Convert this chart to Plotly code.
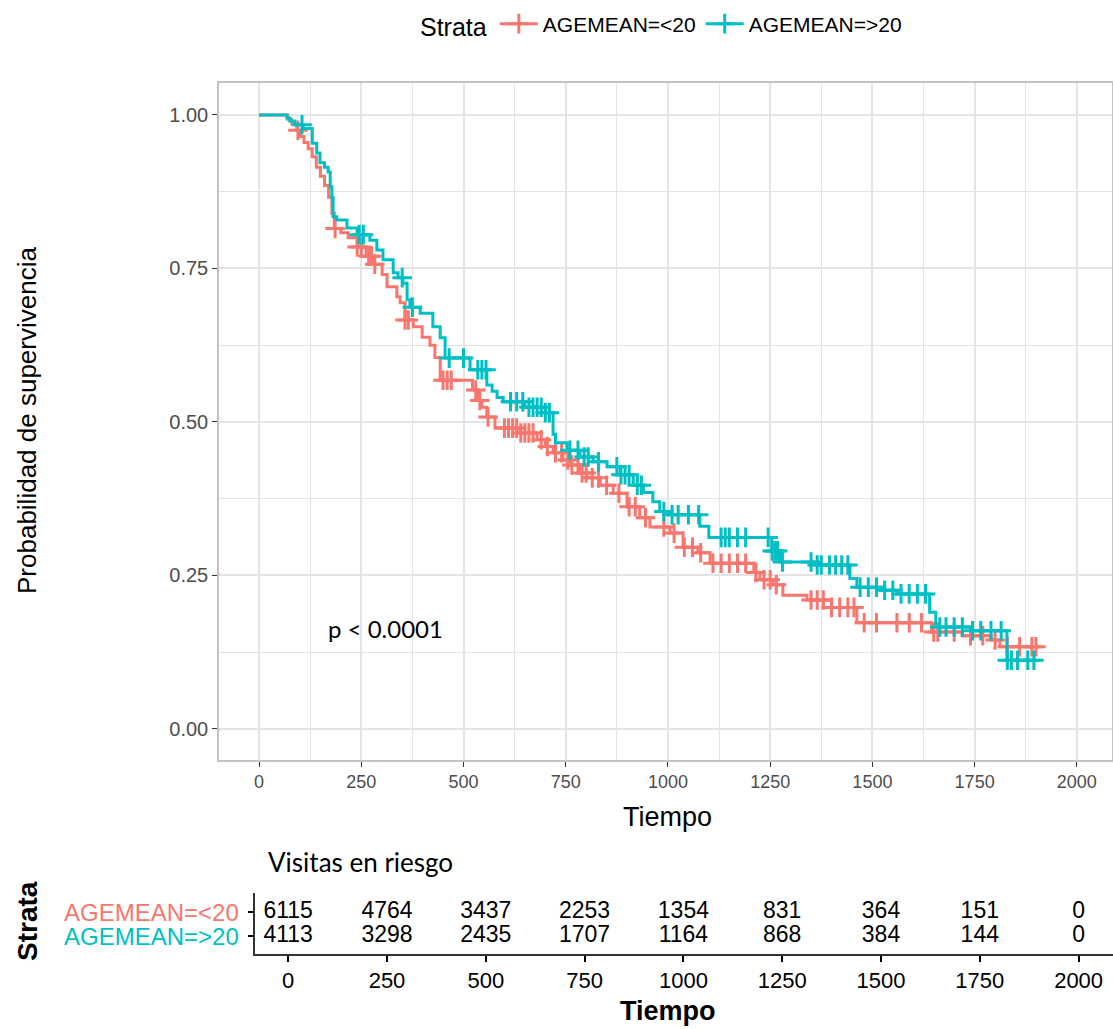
import plotly.graph_objects as go

# ---------------- data ----------------
groups = ["AGEMEAN=<20", "AGEMEAN=>20"]
colors = ["#F8766D", "#00BFC4"]

red_t = [0, 70, 80, 92, 100, 110, 120, 130, 140, 150, 160, 170, 178, 184, 200, 218, 240, 262, 279, 301,
         313, 337, 345, 357, 377, 399, 418, 430, 443, 522, 535, 545, 557, 577, 638, 680, 700, 719, 743, 760,
         785, 802, 834, 866, 900, 931, 956, 1005, 1037, 1073, 1103, 1210, 1225, 1257, 1281, 1340, 1400, 1462,
         1645, 1720, 1790, 1812, 1909]
red_s = [1.0, 0.993, 0.985, 0.975, 0.965, 0.955, 0.945, 0.932, 0.915, 0.9, 0.885, 0.866, 0.84, 0.815, 0.808,
         0.80, 0.785, 0.77, 0.757, 0.74, 0.72, 0.704, 0.694, 0.666, 0.655, 0.638, 0.625, 0.605, 0.568, 0.552,
         0.535, 0.524, 0.508, 0.49, 0.482, 0.471, 0.46, 0.45, 0.438, 0.43, 0.417, 0.409, 0.397, 0.384, 0.362,
         0.344, 0.329, 0.319, 0.296, 0.287, 0.27, 0.255, 0.243, 0.235, 0.218, 0.21, 0.198, 0.173, 0.158,
         0.152, 0.145, 0.134, 0.134]

cyan_t = [0, 68, 75, 88, 108, 130, 141, 149, 160, 169, 174, 178, 181, 190, 215, 240, 271, 288, 303, 328,
          340, 352, 362, 369, 394, 425, 443, 455, 516, 557, 570, 582, 597, 650, 700, 719, 725, 753, 785, 817,
          851, 883, 915, 940, 963, 980, 1000, 1078, 1100, 1254, 1275, 1360, 1445, 1462, 1520, 1560, 1640,
          1655, 1740, 1829, 1909]
cyan_s = [1.0, 0.995, 0.99, 0.984, 0.978, 0.954, 0.938, 0.922, 0.915, 0.907, 0.883, 0.866, 0.834, 0.829,
          0.816, 0.805, 0.796, 0.78, 0.764, 0.743, 0.735, 0.726, 0.699, 0.687, 0.677, 0.655, 0.637, 0.604,
          0.585, 0.56, 0.55, 0.54, 0.533, 0.524, 0.515, 0.48, 0.466, 0.454, 0.443, 0.435, 0.427, 0.414, 0.397,
          0.385, 0.37, 0.354, 0.349, 0.33, 0.312, 0.29, 0.272, 0.267, 0.245, 0.231, 0.226, 0.22, 0.19, 0.166,
          0.16, 0.112, 0.112]

red_censor = [95, 186, 240, 250, 268, 275, 283, 357, 365, 450, 460, 470, 530, 540, 560, 600, 610, 620, 630,
              640, 650, 660, 670, 690, 705, 725, 740, 755, 765, 780, 790, 800, 815, 830, 850, 880, 905, 920,
              945, 990, 1015, 1040, 1060, 1080, 1110, 1130, 1150, 1170, 1190, 1215, 1235, 1250, 1265, 1350,
              1365, 1380, 1400, 1420, 1440, 1455, 1480, 1510, 1560, 1590, 1620, 1650, 1660, 1700, 1740, 1770,
              1800, 1830, 1860, 1890, 1900]
cyan_censor = [105, 245, 255, 350, 375, 465, 500, 535, 545, 555, 615, 630, 645, 660, 670, 680, 690, 700, 710,
               760, 780, 795, 805, 830, 875, 885, 895, 905, 925, 935, 990, 1010, 1025, 1050, 1075, 1130, 1140,
               1150, 1170, 1190, 1245, 1255, 1262, 1268, 1280, 1350, 1365, 1375, 1395, 1410, 1425, 1440, 1470,
               1490, 1510, 1530, 1550, 1570, 1590, 1610, 1630, 1665, 1680, 1700, 1720, 1745, 1765, 1790, 1815,
               1830, 1840, 1855, 1880, 1895]

risk_times = [0, 250, 500, 750, 1000, 1250, 1500, 1750, 2000]
risk_red = [6115, 4764, 3437, 2253, 1354, 831, 364, 151, 0]
risk_cyan = [4113, 3298, 2435, 1707, 1164, 868, 384, 144, 0]

x_ticks = [0, 250, 500, 750, 1000, 1250, 1500, 1750, 2000]
y_ticks = [0, 0.25, 0.5, 0.75, 1.0]
y_ticklabels = ["0.00", "0.25", "0.50", "0.75", "1.00"]


def step_lookup(ts, ss, c):
    val = ss[0]
    for t, s in zip(ts, ss):
        if t <= c:
            val = s
        else:
            break
    return val


W, H = 1113, 1029
def px(x):
    return x / W
def py(y):
    return 1 - y / H

SANS = "Liberation Sans, Arial, sans-serif"
CAL = "Lato, Carlito, Calibri, sans-serif"

fig = go.Figure()

LW = 3
MS = 14
curves = [(red_t, red_s, red_censor), (cyan_t, cyan_s, cyan_censor)]
for (ts, ss, cens), name, col in zip(curves, groups, colors):
    fig.add_trace(go.Scatter(x=ts, y=ss, mode="lines", line=dict(color=col, width=LW, shape="hv"),
                             showlegend=False, hoverinfo="skip", xaxis="x", yaxis="y"))
    fig.add_trace(go.Scatter(x=cens, y=[step_lookup(ts, ss, c) for c in cens], mode="markers",
                             marker=dict(symbol="cross-thin", size=MS, line=dict(color=col, width=LW)),
                             showlegend=False, hoverinfo="skip", xaxis="x", yaxis="y"))
    # legend entry
    fig.add_trace(go.Scatter(x=[None], y=[None], mode="lines+markers", name=name,
                             line=dict(color=col, width=LW),
                             marker=dict(symbol="cross-thin", size=MS, line=dict(color=col, width=LW)),
                             xaxis="x", yaxis="y"))

# risk table numbers
for vals, yv in [(risk_red, 2), (risk_cyan, 1)]:
    fig.add_trace(go.Scatter(x=risk_times, y=[yv] * len(risk_times), mode="text",
                             text=[str(v) for v in vals],
                             textfont=dict(family=SANS, size=23, color="black"),
                             showlegend=False, hoverinfo="skip", xaxis="x2", yaxis="y2"))

grid_c = "#E4E4E4"


def ann(text, x, y, size, color="black", family=SANS, angle=0, xref="paper", yref="paper",
        xanchor="center", height=None):
    d = dict(text=text, xref=xref, yref=yref, x=x, y=y, xanchor=xanchor, yanchor="middle",
             textangle=angle, showarrow=False, font=dict(family=family, size=size, color=color))
    if height is not None:
        d["height"] = height
        d["valign"] = "middle"
    return d


fig.update_layout(
    width=W, height=H, margin=dict(l=0, r=0, t=0, b=0),
    plot_bgcolor="white", paper_bgcolor="white",
    xaxis=dict(domain=[px(219), px(1112)], range=[-98, 2086], anchor="y",
               tickvals=x_ticks, ticks="outside", ticklen=5, tickwidth=1.3, tickcolor="#333333",
               tickfont=dict(family=SANS, size=18, color="#4D4D4D"),
               showgrid=True, gridcolor=grid_c, gridwidth=1.5,
               minor=dict(dtick=125, tick0=0, showgrid=True, gridcolor=grid_c, gridwidth=1.2, ticks=""),
               zeroline=False, showline=True, mirror=True, linecolor="#C4C4C4", linewidth=1.5),
    yaxis=dict(domain=[py(760), py(83)], range=[-0.0505, 1.052], anchor="x",
               tickvals=y_ticks, ticktext=y_ticklabels, ticks="outside", ticklen=5, tickwidth=1.3,
               tickcolor="#333333", tickfont=dict(family=SANS, size=20, color="#4D4D4D"),
               showgrid=True, gridcolor=grid_c, gridwidth=1.5,
               minor=dict(dtick=0.125, tick0=0, showgrid=True, gridcolor=grid_c, gridwidth=1.2, ticks=""),
               zeroline=False, showline=True, mirror=True, linecolor="#C4C4C4", linewidth=1.5),
    xaxis2=dict(domain=[px(255), 1.0], range=[-84, 2087], anchor="y2",
                tickvals=x_ticks, ticks="outside", ticklen=6, tickwidth=1.5, tickcolor="black",
                tickfont=dict(family=SANS, size=22, color="black"),
                showgrid=False, zeroline=False, showline=True, linecolor="#333333", linewidth=1.8),
    yaxis2=dict(domain=[py(954), py(893)], range=[0.25, 2.79], anchor="x2",
                tickvals=[1, 2], ticktext=["", ""], ticks="outside", ticklen=5, tickwidth=1.5,
                tickcolor="black", showgrid=False, zeroline=False, showline=True,
                linecolor="#333333", linewidth=1.8),
    legend=dict(orientation="h", x=px(418), y=py(25), xanchor="left", yanchor="middle",
                title=dict(text="Strata", font=dict(family=SANS, size=25, color="black")),
                font=dict(family=SANS, size=21, color="black"), itemwidth=38,
                bgcolor="rgba(0,0,0,0)"),
    annotations=[
        ann("Probabilidad de supervivencia", px(27), py(421), 26, angle=-90),
        ann("Tiempo", px(667), py(817), 27),
        ann("p < 0.0001", 308, 0.164, 24, family=CAL, xref="x", yref="y"),
        ann("Visitas en riesgo", px(360), py(862), 26, family=CAL),
        ann("<b>Strata</b>", px(27), py(921), 28, angle=-90),
        ann(groups[0], px(241), 2, 24, color=colors[0], yref="y2", xanchor="right", height=24),
        ann(groups[1], px(241), 1, 24, color=colors[1], yref="y2", xanchor="right", height=24),
        ann("<b>Tiempo</b>", px(668), py(1011), 27),
    ],
)

fig.write_html("out.html")
